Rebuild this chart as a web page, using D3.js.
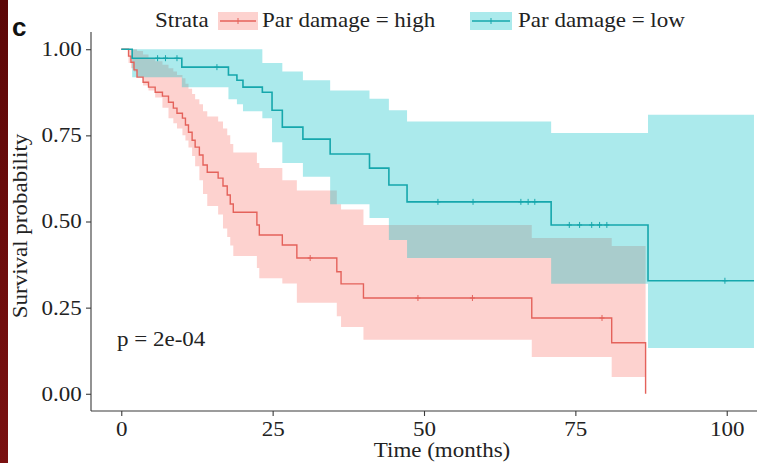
<!DOCTYPE html>
<html><head><meta charset="utf-8">
<script src="https://cdn.jsdelivr.net/npm/d3@7"></script>
<style>body{margin:0;background:#fff}svg{display:block}</style>
</head><body>
<svg id="chart" width="757" height="463"></svg>
<script>
// ---------- data ----------
const xTicks = [0, 25, 50, 75, 100];
const yTicks = [0, 0.25, 0.5, 0.75, 1];
const strata = ["Par damage = high", "Par damage = low"];

// high group: step times and survival (value holds from that time on)
const highTime = [0,1.2,1.6,2.1,2.6,3.6,4.5,5.6,6.8,7.8,8.6,9.2,10.1,10.6,11.1,11.7,12.2,12.9,13.5,14.2,16.0,16.8,17.5,18.0,18.5,22.4,22.8,26.6,29.0,35.6,36.3,40.0,67.8,81.0,86.6];
const highSurv = [1,0.98,0.962,0.94,0.919,0.904,0.89,0.875,0.864,0.846,0.829,0.814,0.80,0.78,0.759,0.736,0.716,0.693,0.664,0.643,0.626,0.603,0.577,0.551,0.527,0.49,0.461,0.432,0.394,0.354,0.319,0.278,0.22,0.148,0];
const highUpper = [1,1,1,1,0.995,0.985,0.975,0.965,0.955,0.945,0.935,0.925,0.916,0.90,0.885,0.87,0.855,0.84,0.82,0.805,0.79,0.77,0.75,0.725,0.70,0.67,0.655,0.62,0.59,0.55,0.535,0.49,0.452,0.429];
const highLower = [1,0.96,0.945,0.935,0.92,0.895,0.88,0.86,0.83,0.80,0.785,0.77,0.75,0.735,0.715,0.69,0.66,0.62,0.58,0.545,0.52,0.48,0.455,0.43,0.40,0.365,0.335,0.32,0.264,0.225,0.194,0.157,0.107,0.049];
const highCensor = [31.2, 49, 58, 79.4];

// low group
const lowTime  = [0,1.8,10.0,17.7,19.1,20.1,23.3,24.9,26.6,30.0,34.5,41.0,44.2,47.2,71.0,87.0];
const lowSurv  = [1,0.974,0.948,0.925,0.91,0.89,0.875,0.823,0.774,0.739,0.696,0.655,0.606,0.557,0.49,0.328];
const lowUpper = [1,1,1,1,1,1,0.96,0.96,0.935,0.91,0.88,0.856,0.823,0.79,0.757,0.81];
const lowLower = [1,0.919,0.89,0.855,0.84,0.82,0.80,0.73,0.67,0.63,0.55,0.51,0.446,0.394,0.319,0.133];
const lowEnd = 104.5;
const lowCensor = [6, 7.3, 9.2, 15.8, 52.3, 58.1, 66, 67.2, 68.3, 74, 75.7, 77.7, 79, 80.2, 99.7];

const pText = "p = 2e-04";

// ---------- drawing ----------
const svg = d3.select("#chart");
const W = 757, H = 463;
const serif = "'Liberation Serif','Times New Roman',serif";
const SX = 1.15;
const colHigh = "#F8766D", colLow = "#00BFC4";
const lineHigh = "#E4625B", lineLow = "#16A7AC";

svg.append("rect").attr("width", W).attr("height", H).attr("fill", "#fff");
const grad = svg.append("defs").append("linearGradient").attr("id","strip").attr("x1",0).attr("y1",0).attr("x2",0).attr("y2",1);
grad.append("stop").attr("offset","0%").attr("stop-color","#5c0707");
grad.append("stop").attr("offset","100%").attr("stop-color","#7a1111");
svg.append("rect").attr("x",0).attr("y",0).attr("width",8).attr("height",H).attr("fill","url(#strip)");

const x = d3.scaleLinear().domain([-5, 105]).range([91, 757]);
const y = d3.scaleLinear().domain([-0.05, 1.05]).range([411, 32]);

function stepAt(times, vals, t){ let v = vals[0]; for(let i=0;i<times.length;i++){ if(times[i] <= t) v = vals[i]; } return v; }

const area = d3.area().curve(d3.curveStepAfter).x(d => x(d.t)).y0(d => y(d.lo)).y1(d => y(d.hi));
const line = d3.line().curve(d3.curveStepAfter).x(d => x(d.t)).y(d => y(d.s));

// bands
const highBand = highUpper.map((h,i)=>({t:highTime[i], lo:highLower[i], hi:h}));
highBand.push({t:highTime[highTime.length-1], lo:highLower[highLower.length-1], hi:highUpper[highUpper.length-1]});
const lowBand = lowUpper.map((h,i)=>({t:lowTime[i], lo:lowLower[i], hi:h}));
lowBand.push({t:lowEnd, lo:lowLower[lowLower.length-1], hi:lowUpper[lowUpper.length-1]});

svg.append("path").datum(highBand).attr("d", area).attr("fill", colHigh).attr("fill-opacity", 0.33);
svg.append("path").datum(lowBand).attr("d", area).attr("fill", colLow).attr("fill-opacity", 0.33);

// lines
const highPts = highTime.map((t,i)=>({t, s:highSurv[i]}));
const lowPts = lowTime.map((t,i)=>({t, s:lowSurv[i]}));
lowPts.push({t:lowEnd, s:lowSurv[lowSurv.length-1]});
svg.append("path").datum(highPts).attr("d", line).attr("fill","none").attr("stroke", lineHigh).attr("stroke-width", 1.4);
svg.append("path").datum(lowPts).attr("d", line).attr("fill","none").attr("stroke", lineLow).attr("stroke-width", 1.6);

function censor(times, surv, list, col){
  const g = svg.append("g");
  list.forEach(t => {
    const cx = x(t), cy = y(stepAt(times, surv, t));
    g.append("line").attr("x1",cx).attr("x2",cx).attr("y1",cy-3).attr("y2",cy+3).attr("stroke",col).attr("stroke-width",1);
    g.append("line").attr("x1",cx-2.5).attr("x2",cx+2.5).attr("y1",cy).attr("y2",cy).attr("stroke",col).attr("stroke-width",1);
  });
}
censor(highTime, highSurv, highCensor, lineHigh);
censor(lowTime, lowSurv, lowCensor, lineLow);

// axes
const xAxis = svg.append("g").attr("transform","translate(0,411)")
  .call(d3.axisBottom(x).tickValues(xTicks).tickSize(5).tickSizeOuter(0).tickPadding(6));
const yAxis = svg.append("g").attr("transform","translate(91,0)")
  .call(d3.axisLeft(y).tickValues(yTicks).tickFormat(d3.format(".2f")).tickSize(5).tickSizeOuter(0).tickPadding(3));
[xAxis, yAxis].forEach(a => {
  a.selectAll("path, line").attr("stroke", "#3a3a3a").attr("stroke-width", 1.1);
  a.selectAll("text").attr("font-family", serif).attr("font-size", 20).attr("fill", "#222")
    .attr("transform", `scale(${SX},1)`);
});
yAxis.select(".domain").attr("d", `M0,32V411`);
xAxis.select(".domain").attr("d", `M91,0H757`);

function stext(txt, px, py, anchor, rot){
  const g = svg.append("g").attr("transform", `translate(${px},${py})` + (rot ? ` rotate(${rot})` : "") + ` scale(${SX},1)`);
  g.append("text").text(txt).attr("font-family", serif).attr("font-size", 20).attr("fill", "#222").attr("text-anchor", anchor || "start");
  return g;
}

stext("Time (months)", 442, 457, "middle");
stext("Survival probability", 27, 226, "middle", -90);
stext(pText, 117, 346, "start");

// panel label
svg.append("text").text("c").attr("x", 12).attr("y", 36).attr("font-family","'Liberation Sans',Arial,sans-serif")
  .attr("font-weight","bold").attr("font-size", 26).attr("fill","#111");

// legend
stext("Strata", 155, 27, "start");
const keys = [{x0:218, x1:258, tx:262, col:colHigh, lc:lineHigh, label:strata[0]},
              {x0:470, x1:512, tx:518, col:colLow, lc:lineLow, label:strata[1]}];
keys.forEach(k => {
  svg.append("rect").attr("x",k.x0).attr("y",12).attr("width",k.x1-k.x0).attr("height",18).attr("fill",k.col).attr("fill-opacity",0.33);
  svg.append("line").attr("x1",k.x0+2).attr("x2",k.x1-2).attr("y1",21).attr("y2",21).attr("stroke",k.lc).attr("stroke-width",1.5);
  const mx = (k.x0+k.x1)/2;
  svg.append("line").attr("x1",mx).attr("x2",mx).attr("y1",18).attr("y2",24).attr("stroke",k.lc).attr("stroke-width",1);
  stext(k.label, k.tx, 27, "start");
});
</script>
</body></html>
